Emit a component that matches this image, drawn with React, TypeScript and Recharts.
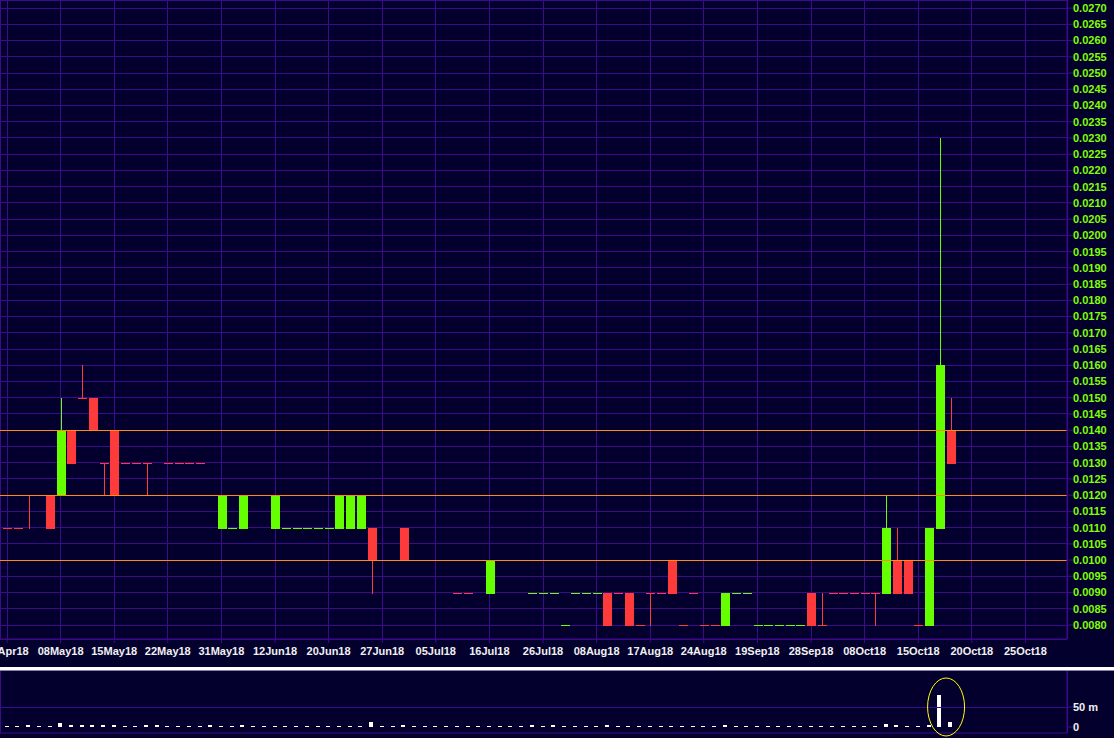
import React from 'react';
import { ComposedChart, Bar, XAxis, YAxis, CartesianGrid, ReferenceLine, ReferenceDot } from 'recharts';

// ---- data (price in $, volume in millions) ----
const openP = [
  0.0110, 0.0110, 0.0120, 0.0120, 0.0120, 0.0120, 0.0140, 0.0150, 0.0150, 0.0130,
  0.0140, 0.0130, 0.0130, 0.0130, 0.0140, 0.0130, 0.0130, 0.0130, 0.0130, 0.0120,
  0.0110, 0.0110, 0.0110, 0.0120, 0.0120, 0.0110, 0.0110, 0.0110, 0.0110, 0.0110,
  0.0110, 0.0110, 0.0110, 0.0110, 0.0110, 0.0100, 0.0100, 0.0110, 0.0100, 0.0100,
  0.0100, 0.0100, 0.0090, 0.0090, 0.0100, 0.0090, 0.0100, 0.0100, 0.0100, 0.0090,
  0.0090, 0.0090, 0.0080, 0.0090, 0.0090, 0.0090, 0.0090, 0.0090, 0.0090, 0.0080,
  0.0090, 0.0090, 0.0100, 0.0080, 0.0090, 0.0080, 0.0080, 0.0080, 0.0090, 0.0090,
  0.0080, 0.0080, 0.0080, 0.0080, 0.0080, 0.0090, 0.0080, 0.0090, 0.0090, 0.0090,
  0.0090, 0.0090, 0.0090, 0.0100, 0.0100, 0.0080, 0.0080, 0.0110, 0.0140,
];
const highP = [
  0.0110, 0.0110, 0.0120, 0.0120, 0.0120, 0.0150, 0.0140, 0.0160, 0.0150, 0.0130,
  0.0140, 0.0130, 0.0130, 0.0130, 0.0140, 0.0130, 0.0130, 0.0130, 0.0130, 0.0120,
  0.0120, 0.0110, 0.0120, 0.0120, 0.0120, 0.0120, 0.0110, 0.0110, 0.0110, 0.0110,
  0.0110, 0.0120, 0.0120, 0.0120, 0.0110, 0.0100, 0.0100, 0.0110, 0.0100, 0.0100,
  0.0100, 0.0100, 0.0090, 0.0090, 0.0100, 0.0100, 0.0100, 0.0100, 0.0100, 0.0090,
  0.0090, 0.0090, 0.0080, 0.0090, 0.0090, 0.0090, 0.0090, 0.0090, 0.0090, 0.0080,
  0.0090, 0.0090, 0.0100, 0.0080, 0.0090, 0.0080, 0.0080, 0.0090, 0.0090, 0.0090,
  0.0080, 0.0080, 0.0080, 0.0080, 0.0080, 0.0090, 0.0090, 0.0090, 0.0090, 0.0090,
  0.0090, 0.0090, 0.0120, 0.0110, 0.0100, 0.0080, 0.0110, 0.0230, 0.0150,
];
const lowP = [
  0.0110, 0.0110, 0.0110, 0.0120, 0.0110, 0.0120, 0.0130, 0.0150, 0.0140, 0.0120,
  0.0120, 0.0130, 0.0130, 0.0120, 0.0140, 0.0130, 0.0130, 0.0130, 0.0130, 0.0120,
  0.0110, 0.0110, 0.0110, 0.0120, 0.0120, 0.0110, 0.0110, 0.0110, 0.0110, 0.0110,
  0.0110, 0.0110, 0.0110, 0.0110, 0.0090, 0.0100, 0.0100, 0.0100, 0.0100, 0.0100,
  0.0100, 0.0100, 0.0090, 0.0090, 0.0100, 0.0090, 0.0100, 0.0100, 0.0100, 0.0090,
  0.0090, 0.0090, 0.0080, 0.0090, 0.0090, 0.0090, 0.0080, 0.0090, 0.0080, 0.0080,
  0.0080, 0.0090, 0.0090, 0.0080, 0.0090, 0.0080, 0.0080, 0.0080, 0.0090, 0.0090,
  0.0080, 0.0080, 0.0080, 0.0080, 0.0080, 0.0080, 0.0080, 0.0090, 0.0090, 0.0090,
  0.0090, 0.0080, 0.0090, 0.0090, 0.0090, 0.0080, 0.0080, 0.0110, 0.0130,
];
const closeP = [
  0.0110, 0.0110, 0.0120, 0.0120, 0.0110, 0.0140, 0.0130, 0.0150, 0.0140, 0.0130,
  0.0120, 0.0130, 0.0130, 0.0130, 0.0140, 0.0130, 0.0130, 0.0130, 0.0130, 0.0120,
  0.0120, 0.0110, 0.0120, 0.0120, 0.0120, 0.0120, 0.0110, 0.0110, 0.0110, 0.0110,
  0.0110, 0.0120, 0.0120, 0.0120, 0.0100, 0.0100, 0.0100, 0.0100, 0.0100, 0.0100,
  0.0100, 0.0100, 0.0090, 0.0090, 0.0100, 0.0100, 0.0100, 0.0100, 0.0100, 0.0090,
  0.0090, 0.0090, 0.0080, 0.0090, 0.0090, 0.0090, 0.0080, 0.0090, 0.0080, 0.0080,
  0.0090, 0.0090, 0.0090, 0.0080, 0.0090, 0.0080, 0.0080, 0.0090, 0.0090, 0.0090,
  0.0080, 0.0080, 0.0080, 0.0080, 0.0080, 0.0080, 0.0080, 0.0090, 0.0090, 0.0090,
  0.0090, 0.0090, 0.0110, 0.0090, 0.0090, 0.0080, 0.0110, 0.0160, 0.0130,
];
const volumeM = [
  2.5, 2.5, 5, 2.5, 2.5, 11, 5, 5, 5, 5,
  6, 2.5, 2.5, 5, 5, 2.5, 2.5, 2.5, 2.5, 6,
  2.5, 2.5, 5, 2.5, 2.5, 2.5, 2.5, 2.5, 2.5, 2.5,
  2.5, 2.5, 2.5, 2.5, 12, 2.5, 2.5, 5, 2.5, 2.5,
  2.5, 2.5, 2.5, 2.5, 2.5, 2.5, 2.5, 2.5, 2.5, 5,
  2.5, 5, 2.5, 2.5, 2.5, 2.5, 5, 2.5, 2.5, 2.5,
  2.5, 2.5, 2.5, 2.5, 2.5, 2.5, 2.5, 5, 2.5, 2.5,
  2.5, 2.5, 2.5, 2.5, 2.5, 2.5, 2.5, 2.5, 2.5, 2.5,
  2.5, 2.5, 7, 6, 2.5, 2.5, 6, 80, 12,
];
const dateTickIdx = [0, 5, 10, 15, 20, 25, 30, 35, 40, 45, 50, 55, 60, 65, 70, 75, 80, 85, 90, 95];
const dateTickLabels = [
  '30Apr18', '08May18', '15May18', '22May18', '31May18', '12Jun18', '20Jun18', '27Jun18', '05Jul18', '16Jul18',
  '26Jul18', '08Aug18', '17Aug18', '24Aug18', '19Sep18', '28Sep18', '08Oct18', '15Oct18', '20Oct18', '25Oct18',
];
const priceTicks = [
  0.0080, 0.0085, 0.0090, 0.0095, 0.0100, 0.0105, 0.0110, 0.0115, 0.0120, 0.0125,
  0.0130, 0.0135, 0.0140, 0.0145, 0.0150, 0.0155, 0.0160, 0.0165, 0.0170, 0.0175,
  0.0180, 0.0185, 0.0190, 0.0195, 0.0200, 0.0205, 0.0210, 0.0215, 0.0220, 0.0225,
  0.0230, 0.0235, 0.0240, 0.0245, 0.0250, 0.0255, 0.0260, 0.0265, 0.0270,
];
const levelLines = [0.0140, 0.0120, 0.0100];
const volumeTicks = [0, 50];
const volumeTickLabels = ['0', '50 m'];

// ---- styles ----
const BG = '#03002e';
const GRID = '#3e0a8c';
const GREEN = '#66ff00';
const RED = '#ff3a3a';
const ORANGE = '#ff8c10';
const YLABEL = '#80ff00';
const XLABEL = '#f0f0f0';
const FONT = '"Liberation Sans", Arial, Helvetica, sans-serif';
const PRICE_MIN = 0.00757;
const PRICE_MAX = 0.02725;
const X_MIN = -0.653;
const X_MAX = 98.88;

let prevUp = false;
const data = openP.map((o, i) => {
  const c = closeP[i];
  const up = c > o ? true : c < o ? false : prevUp;
  prevUp = up;
  return { i, open: o, high: highP[i], low: lowP[i], close: c, up, vol: volumeM[i] };
});

const Candle = (props: any) => {
  const { x, y, width, height, payload } = props;
  if (!payload) return null;
  const top = Math.min(y, y + height);
  const bot = Math.max(y, y + height);
  const ppu = (bot - top) / (payload.high - PRICE_MIN);
  const py = (p: number) => top + (payload.high - p) * ppu;
  const color = payload.up ? GREEN : RED;
  const cx = Math.round(x + width / 2);
  const yo = py(payload.open);
  const yc = py(payload.close);
  const bTop = Math.round(Math.min(yo, yc));
  const bBot = Math.round(Math.max(yo, yc));
  const yH = Math.round(py(payload.high));
  const yL = Math.round(py(payload.low));
  return (
    <g shapeRendering="crispEdges">
      {yL > yH && <rect x={cx} y={yH} width={1} height={yL - yH + 1} fill={color} />}
      {bBot - bTop >= 1 ? (
        <rect x={cx - 4} y={bTop} width={9} height={bBot - bTop + 1} fill={color} />
      ) : (
        <rect x={cx - 4} y={bTop} width={9} height={1} fill={color} />
      )}
    </g>
  );
};

const VolBar = (props: any) => {
  const { x, y, width, height } = props;
  const top = Math.round(Math.min(y, y + height));
  const h = Math.max(1, Math.round(Math.abs(height)));
  const cx = Math.round(x + width / 2);
  return <rect x={cx - 2} y={top} width={4} height={h} fill="#ffffff" shapeRendering="crispEdges" />;
};

const Ellipse = (props: any) => (
  <ellipse cx={props.cx} cy={props.cy} rx={18.5} ry={29} fill="none" stroke="#ffff00" strokeWidth={1} />
);

export default function App() {
  return (
    <div style={{ position: 'absolute', left: 0, top: 0, width: 1114, height: 738, background: BG, overflow: 'hidden', fontFamily: FONT }}>
      <div style={{ position: 'absolute', left: 0, top: 0 }}>
        <ComposedChart width={1114} height={668} data={data} margin={{ top: 0, right: 0, bottom: 0, left: 0 }}>
          <CartesianGrid stroke={GRID} strokeWidth={1} shapeRendering="crispEdges" />
          <XAxis
            dataKey="i"
            type="number"
            domain={[X_MIN, X_MAX]}
            allowDataOverflow
            ticks={dateTickIdx}
            interval={0}
            tickFormatter={(v: number) => dateTickLabels[dateTickIdx.indexOf(v)] ?? ''}
            height={29}
            tickSize={4}
            tickMargin={4}
            stroke={GRID}
            axisLine={{ stroke: GRID }}
            tickLine={{ stroke: GRID }}
            tick={{ fill: XLABEL, fontSize: 11, fontWeight: 'bold', fontFamily: FONT }}
          />
          <YAxis
            orientation="right"
            type="number"
            domain={[PRICE_MIN, PRICE_MAX]}
            allowDataOverflow
            ticks={priceTicks}
            interval={0}
            width={47}
            tickSize={6}
            tickMargin={0}
            tickFormatter={(v: number) => v.toFixed(4)}
            axisLine={{ stroke: GRID }}
            tickLine={{ stroke: GRID }}
            tick={{ fill: YLABEL, fontSize: 11, fontWeight: 'bold', fontFamily: FONT }}
          />
          {levelLines.map((lv) => (
            <ReferenceLine key={lv} y={lv} stroke={ORANGE} strokeWidth={1} shapeRendering="crispEdges" />
          ))}
          <Bar
            dataKey={(d: any) => [PRICE_MIN, d.high]}
            barSize={9}
            shape={<Candle />}
            isAnimationActive={false}
          />
        </ComposedChart>
      </div>
      <div style={{ position: 'absolute', left: 0, top: 667, width: 1114, height: 3, background: '#ffffff' }} />
      <div style={{ position: 'absolute', left: 0, top: 670, width: 1114, height: 1, background: '#8a80a8' }} />
      <div style={{ position: 'absolute', left: 0, top: 671 }}>
        <ComposedChart width={1114} height={67} data={data} margin={{ top: 0, right: 0, bottom: 0, left: 0 }}>
          <CartesianGrid stroke={GRID} horizontal={false} shapeRendering="crispEdges" />
          <XAxis
            dataKey="i"
            type="number"
            domain={[X_MIN, X_MAX]}
            allowDataOverflow
            ticks={dateTickIdx}
            interval={0}
            height={5}
            tick={false}
            tickLine={false}
            axisLine={{ stroke: GRID }}
          />
          <YAxis
            orientation="right"
            type="number"
            domain={[-15, 140]}
            allowDataOverflow
            ticks={volumeTicks}
            interval={0}
            width={47}
            tickSize={6}
            tickMargin={0}
            tickFormatter={(v: number) => volumeTickLabels[volumeTicks.indexOf(v)] ?? ''}
            axisLine={{ stroke: GRID }}
            tickLine={{ stroke: GRID }}
            tick={{ fill: XLABEL, fontSize: 11, fontWeight: 'bold', fontFamily: FONT }}
          />
          <ReferenceLine y={50} stroke={GRID} shapeRendering="crispEdges" />
          <Bar dataKey="vol" barSize={4} shape={<VolBar />} isAnimationActive={false} />
          <ReferenceDot x={87.6} y={50} r={18} shape={<Ellipse />} ifOverflow="visible" />
        </ComposedChart>
      </div>
    </div>
  );
}
